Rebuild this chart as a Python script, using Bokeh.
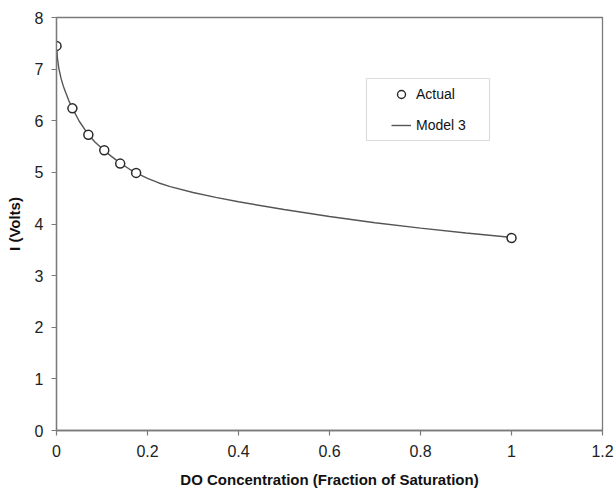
from bokeh.plotting import figure
from bokeh.models import ColumnDataSource, Legend, LegendItem, BoxAnnotation, Range1d, FixedTicker
from bokeh.embed import file_html
from bokeh.resources import INLINE

# Measured data ("Actual")
actual_x = [0.0, 0.035, 0.07, 0.105, 0.14, 0.175, 1.0]
actual_y = [7.45, 6.24, 5.73, 5.43, 5.17, 4.99, 3.73]

# Model 3 curve
model_x = [0.0, 0.002, 0.005, 0.01, 0.015, 0.02, 0.027, 0.035, 0.05, 0.07, 0.085,
           0.105, 0.12, 0.14, 0.16, 0.175, 0.2, 0.225, 0.25, 0.3, 0.35, 0.4, 0.5,
           0.6, 0.7, 0.8, 0.9, 1.0]
model_y = [7.45, 7.22, 7.02, 6.82, 6.67, 6.55, 6.39, 6.24, 5.99, 5.73, 5.585,
           5.425, 5.315, 5.18, 5.065, 4.99, 4.885, 4.795, 4.725, 4.61, 4.515, 4.43, 4.28,
           4.145, 4.025, 3.92, 3.825, 3.74]

x_ticks = [0, 0.2, 0.4, 0.6, 0.8, 1.0, 1.2]
x_tick_labels = ["0", "0.2", "0.4", "0.6", "0.8", "1", "1.2"]
y_ticks = [0, 1, 2, 3, 4, 5, 6, 7, 8]
y_tick_labels = ["0", "1", "2", "3", "4", "5", "6", "7", "8"]

FONT = "Liberation Sans"

p = figure(frame_width=546, frame_height=413, output_backend="svg", toolbar_location=None,
           x_range=Range1d(0, 1.2), y_range=Range1d(0, 8),
           min_border_left=56, min_border_right=14, min_border_top=17, min_border_bottom=59)
p.background_fill_color = "white"
p.border_fill_color = "white"
p.outline_line_color = "#7a7a7a"
p.outline_line_width = 1.3
p.xgrid.visible = False
p.ygrid.visible = False

for ax in (p.xaxis[0], p.yaxis[0]):
    ax.axis_line_color = "#7a7a7a"
    ax.axis_line_width = 1.3
    ax.major_tick_line_color = "#7a7a7a"
    ax.major_tick_line_width = 1.2
    ax.major_tick_out = 5
    ax.major_tick_in = 0
    ax.minor_tick_line_color = None
    ax.major_label_text_font = FONT
    ax.major_label_text_font_size = "16px"
    ax.major_label_text_color = "#222222"
    ax.axis_label_text_font = FONT
    ax.axis_label_text_font_size = "15px"
    ax.axis_label_text_font_style = "bold"
    ax.axis_label_text_color = "#111111"

p.xaxis.ticker = FixedTicker(ticks=x_ticks)
p.xaxis.major_label_overrides = dict(zip(x_ticks, x_tick_labels))
p.yaxis.ticker = FixedTicker(ticks=y_ticks)
p.yaxis.major_label_overrides = dict(zip(y_ticks, y_tick_labels))
p.xaxis.axis_label = "DO Concentration (Fraction of Saturation)"
p.yaxis.axis_label = "I (Volts)"
p.xaxis.major_label_standoff = 9
p.yaxis.major_label_standoff = 8
p.xaxis.axis_label_standoff = 11
p.yaxis.axis_label_standoff = 9

model_src = ColumnDataSource(dict(x=model_x, y=model_y))
actual_src = ColumnDataSource(dict(x=actual_x, y=actual_y))

line_r = p.line("x", "y", source=model_src, line_color="#555555", line_width=1.4)
pts_r = p.scatter("x", "y", source=actual_src, marker="circle", size=9,
                  line_color="#2a2a2a", line_width=1.5, fill_color="white")

# legend glyph proxy (smaller circle, as in the reference legend); not drawn in the plot
nan = float("nan")
proxy = p.scatter(x=[nan], y=[nan], marker="circle", size=6, line_color="#2a2a2a",
                  line_width=1.4, fill_color="white")

# legend frame
box = BoxAnnotation(left=(366 - 56) * 1.2 / 546, right=(489 - 56) * 1.2 / 546,
                    bottom=(430 - 140) * 8 / 413, top=(430 - 78) * 8 / 413,
                    fill_color="white", fill_alpha=1.0,
                    line_color="#8a8a8a", line_width=1.2)
p.add_layout(box)

legend = Legend(items=[LegendItem(label="Actual", renderers=[proxy], index=0),
                       LegendItem(label="Model 3", renderers=[line_r])],
                location=(335, 295), padding=0, margin=0, spacing=11,
                glyph_width=20, glyph_height=20, label_height=20, label_standoff=5,
                label_text_font=FONT, label_text_font_size="14px",
                label_text_color="#111111",
                border_line_alpha=0, background_fill_alpha=0)
p.add_layout(legend, "center")

open("out.html", "w").write(file_html(p, INLINE))
